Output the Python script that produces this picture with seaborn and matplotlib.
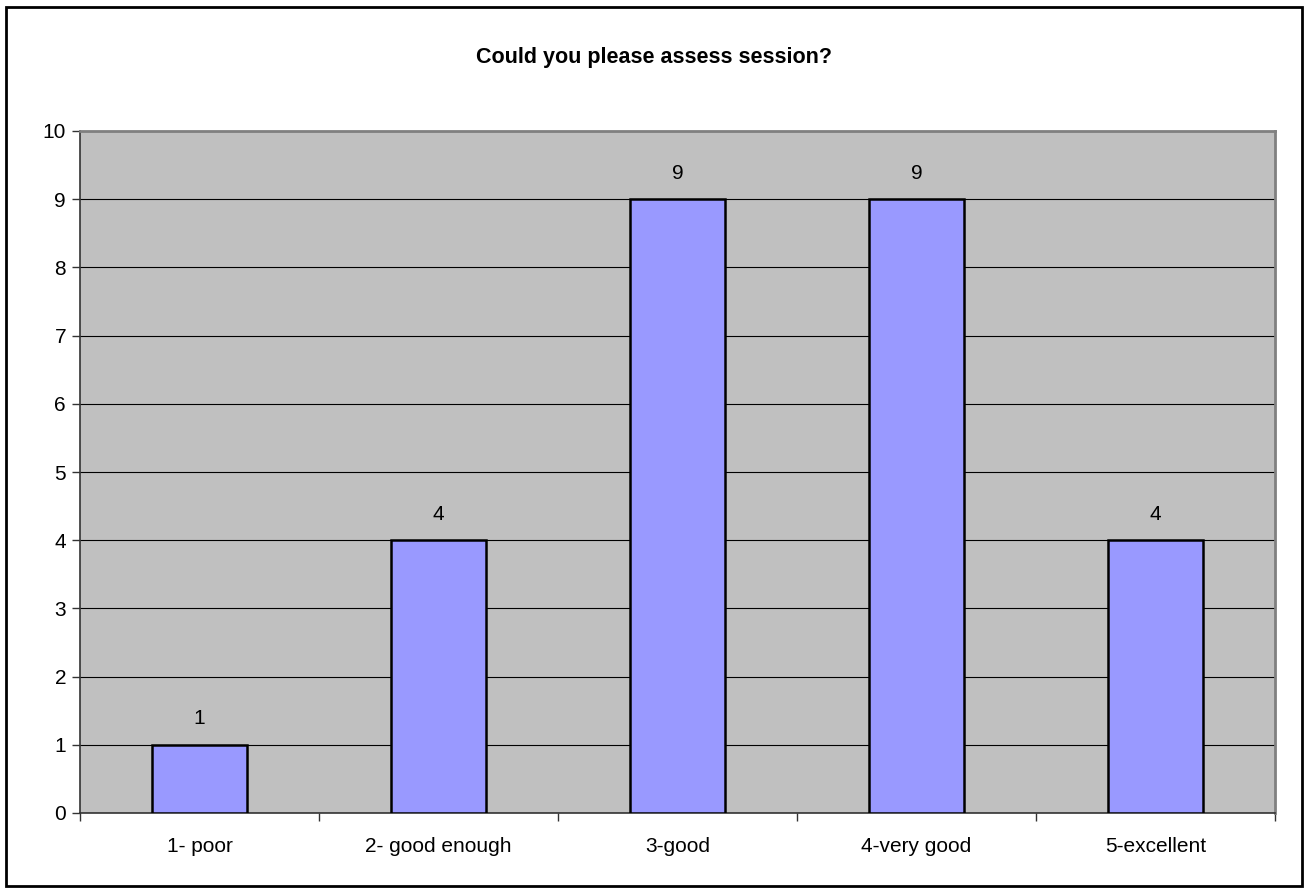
import matplotlib
matplotlib.use("Agg")
import matplotlib.pyplot as plt
import seaborn as sns
import pandas as pd
from matplotlib.patches import Rectangle

categories = ["1- poor", "2- good enough", "3-good", "4-very good", "5-excellent"]
values = [1, 4, 9, 9, 4]
yticks = list(range(0, 11))
title = "Could you please assess session?"

sns.set_theme(style="white")
plt.rcParams["font.family"] = ["Liberation Sans", "DejaVu Sans"]
plt.rcParams["text.color"] = "black"
plt.rcParams["xtick.labelcolor"] = "black"
plt.rcParams["ytick.labelcolor"] = "black"

df = pd.DataFrame({"cat": categories, "val": values})

fig = plt.figure(figsize=(13.08, 8.92), dpi=100)
ax = fig.add_axes([80/1308, 1-813/892, (1275-80)/1308, (813-131)/892])
sns.barplot(data=df, x="cat", y="val", ax=ax, color="#9999FF", saturation=1,
            width=0.40, edgecolor="black", linewidth=1.8, zorder=3)

ax.set_facecolor("#C0C0C0")
ax.set_ylim(0, 10)
ax.set_xlim(-0.5, len(categories) - 0.5)
ax.set_yticks(yticks)
ax.set_yticklabels([str(t) for t in yticks], fontsize=15, color="black")
ax.yaxis.grid(True, color="black", linewidth=0.8, zorder=1)
ax.set_axisbelow(True)
ax.tick_params(axis="y", which="major", direction="out", length=6, width=1, color="#333333", left=True, pad=4)
ax.set_xticks(range(len(categories)))
ax.set_xticklabels(categories, fontsize=15, color="black")
ax.tick_params(axis="x", which="major", length=0, pad=17)
ax.set_xticks([i - 0.5 for i in range(len(categories) + 1)], minor=True)
ax.tick_params(axis="x", which="minor", direction="out", length=6, width=1, color="#333333", bottom=True)
ax.set_xlabel("")
ax.set_ylabel("")

for sp in ["top", "right"]:
    ax.spines[sp].set_color("#808080")
    ax.spines[sp].set_linewidth(2)
for sp in ["left", "bottom"]:
    ax.spines[sp].set_color("#333333")
    ax.spines[sp].set_linewidth(1.2)

for i, v in enumerate(values):
    ax.annotate(str(v), (i, v), xytext=(0, 12), textcoords="offset points",
                ha="center", va="bottom", fontsize=15, color="black")

fig.text(0.5, 1 - 58/892, title, ha="center", va="center", fontsize=15.5,
         fontweight="bold", color="black")

fig.patches.append(Rectangle((6/1308, 6/892), 1296/1308, 879/892, transform=fig.transFigure,
                             fill=False, edgecolor="black", linewidth=2))

fig.savefig("out.png", dpi=100)
